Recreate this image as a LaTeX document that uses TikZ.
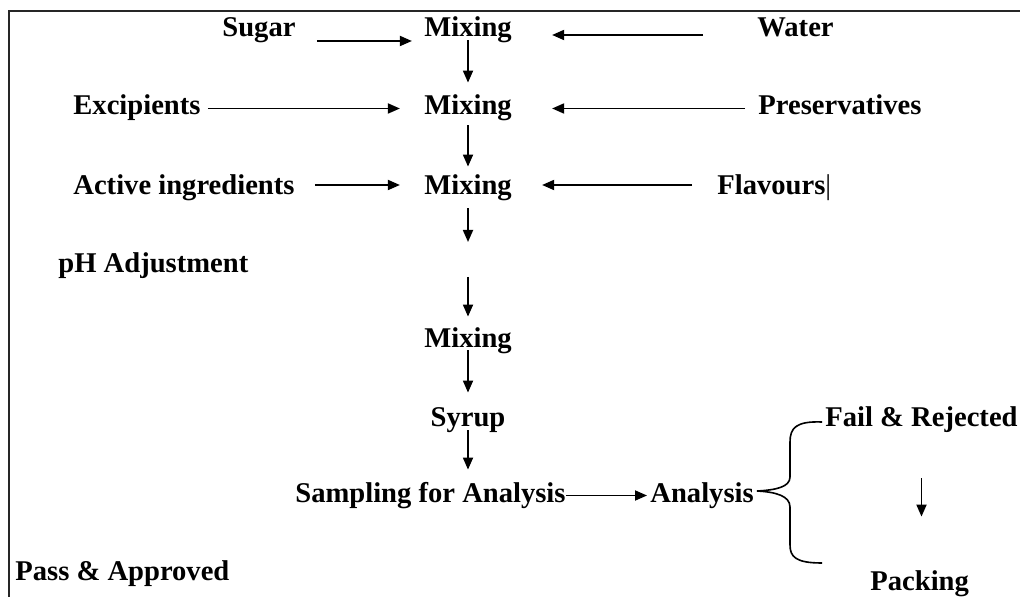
\documentclass[tikz,border=0pt]{standalone}
\usepackage{fontspec}
\setmainfont{Liberation Serif}
\usetikzlibrary{arrows.meta}
\tikzset{
  flow/.style={-{Triangle[length=6pt,width=5pt]},line width=0.9pt},
  lbl/.style={font=\fontsize{14.3}{17}\selectfont\bfseries,inner sep=0pt,
    text height=9.5pt,text depth=3pt},
  framel/.style={line width=1pt,black!85},
  bracel/.style={line width=0.8pt},
}
\begin{document}
\begin{tikzpicture}[x=0.5pt,y=-0.5pt]
        \useasboundingbox (0,0) rectangle (1020,597);
        \draw[framel] (9,597) -- (9,11) -- (1020,11);
        % main column
        \node[lbl,anchor=base] (mixA) at (468,37) {Mixing};
        \node[lbl,anchor=base] (mixB) at (468,115) {Mixing};
        \node[lbl,anchor=base] (mixC) at (468,195) {Mixing};
        \node[lbl,anchor=base] (mixD) at (468,348) {Mixing};
        \node[lbl,anchor=base] (syrup) at (468,427) {Syrup};
        \node[lbl,anchor=base west] (sampling) at (295,502) {Sampling for Analysis};
        \node[lbl,anchor=base west] (analysis) at (650,502) {Analysis};
        \coordinate (phTop) at (468,242);
        \coordinate (phBot) at (468,277);
        % inputs left and right
        \node[lbl,anchor=base west] (sugar) at (222,37) {Sugar};
        \node[lbl,anchor=base west] (water) at (757,37) {Water};
        \node[lbl,anchor=base west] (excip) at (73,115) {Excipients};
        \node[lbl,anchor=base west] (preserv) at (758,115) {Preservatives};
        \node[lbl,anchor=base west] (active) at (73,195) {Active ingredients};
        \node[lbl,anchor=base west] (flav) at (717,195) {Flavours{\mdseries|}};
        \node[lbl,anchor=base west] (phadj) at (58,273) {pH Adjustment};
        \node[lbl,anchor=base west] (pass) at (15,580) {Pass \& Approved};
        \node[lbl,anchor=base west] (fail) at (825,427) {Fail \& Rejected};
        \node[lbl,anchor=base west] (packing) at (870,590) {Packing};
        % arrows
        \draw[flow,shorten <=10.5pt,shorten >=6pt] ([yshift=-5.25pt]sugar.east) -- ([yshift=-5.25pt]mixA.west);
        \draw[flow,shorten <=27pt,shorten >=20pt] ([yshift=-2.25pt]water.west) -- ([yshift=-2.25pt]mixA.east);
        \draw[flow,shorten <=3.5pt,shorten >=12pt] (excip.east) -- (mixB.west);
        \draw[flow,shorten <=6.5pt,shorten >=20pt] (preserv.west) -- (mixB.east);
        \draw[flow,shorten <=10pt,shorten >=12pt] ([yshift=1.75pt]active.east) -- ([yshift=1.75pt]mixC.west);
        \draw[flow,shorten <=12.5pt,shorten >=15pt] ([yshift=1.75pt]flav.west) -- ([yshift=1.75pt]mixC.east);
        \draw[flow,shorten <=-1.5pt,shorten >=6.5pt] (mixA) -- (mixB);
        \draw[flow,shorten <=2pt,shorten >=4.5pt] (mixB) -- (mixC);
        \draw[flow,shorten <=3.5pt] (mixC) -- (phTop);
        \draw[flow,shorten >=6pt] (phBot) -- (mixD);
        \draw[flow,shorten <=-2pt,shorten >=7.5pt] (mixD) -- (syrup);
        \draw[flow,shorten <=-1.5pt,shorten >=6.5pt] (syrup) -- (syrup |- sampling.north);
        \draw[flow,shorten >=1.5pt] (sampling.east) -- (analysis.west);
        \draw[flow,shorten <=22.5pt,shorten >=27pt] (fail.south) -- (fail.south |- packing.north);
        % brace after analysis
        \coordinate (brTop) at (822,422);
        \coordinate (brTip) at (757,491);
        \coordinate (brBot) at (822,563);
        \draw[bracel] (brTop) .. controls (796,421) and (790,428) .. (790,442) -- (790,477)
              .. controls (790,487) and (776,490) .. (brTip)
              .. controls (776,492) and (790,496) .. (790,507) -- (790,545)
              .. controls (790,557) and (796,563) .. (brBot);
      \end{tikzpicture}
\end{document}
